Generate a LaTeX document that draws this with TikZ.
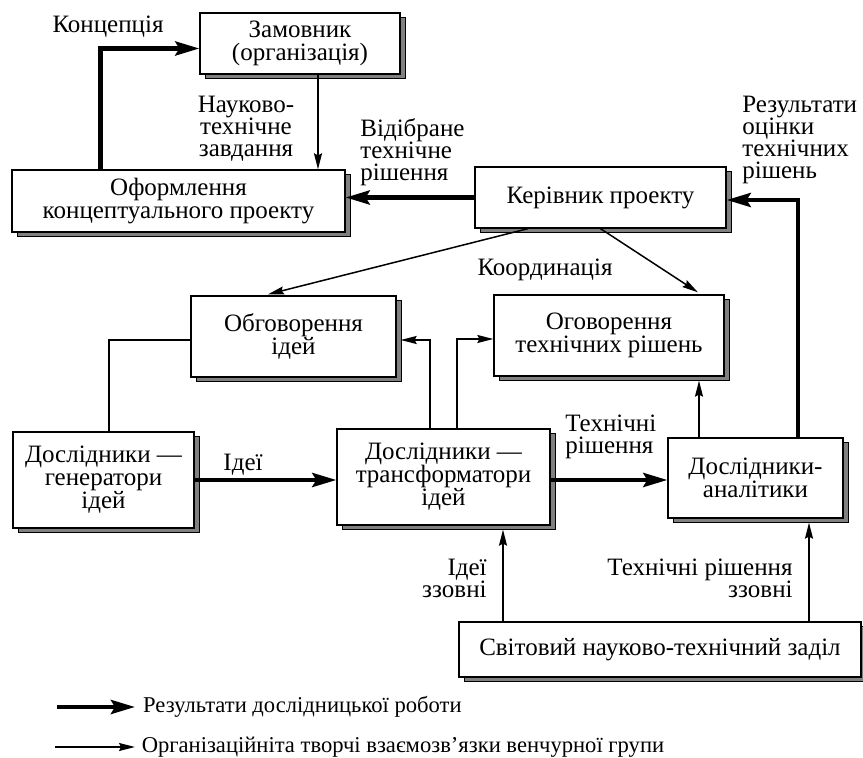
\documentclass[tikz,border=0pt]{standalone}
\usepackage{fontspec}
\setmainfont{Liberation Serif}
\usetikzlibrary{arrows.meta,shadows,positioning}
\tikzset{x=0.5pt, y=-0.5pt, % one unit is one pixel of the sketch
        box/.style={ % Sets the properties for each block
            draw, fill=white, line width=0.65pt,
            align=center, inner sep=0pt,
            font=\fontsize{12.5}{11.5}\selectfont,
            copy shadow={shadow xshift=2.5pt, shadow yshift=-2.5pt,
                fill=black!50, draw=black, line width=0.5pt}},
        lbl/.style={ % Text beside the connectors
            inner sep=0pt,
            font=\fontsize{12.5}{11}\selectfont},
        res/.style={ % Results of the research work (bold)
            draw, line width=2.2pt,
            -{Stealth[length=12pt,width=7pt,inset=2pt]}},
        org/.style={ % Organisational links (thin)
            draw, line width=0.75pt,
            -{Stealth[length=8pt,width=4pt,inset=1pt]}},
        link/.style={draw, line width=0.75pt}
        }

\begin{document}
\begin{tikzpicture}
    \useasboundingbox (0,0) rectangle (863,758);

    \node[box, minimum width=100pt, minimum height=30.5pt] (zam) at (300,43.5) {Замовник\\(організація)};
    \node[box, minimum width=166.5pt, minimum height=31pt] (ofo) at (178.5,201) {Оформлення\\концептуального проекту};
    \node[box, minimum width=125.5pt, minimum height=30.5pt] (ker) at (600.5,197.5) {Керівник проекту};
    \node[box, minimum width=102.5pt, minimum height=40.5pt] (obg) at (293.5,336.5) {Обговорення\\ідей};
    \node[box, minimum width=115pt, minimum height=40.5pt] (ogo) at (609,335.5) {Оговорення\\технічних рішень};
    \node[box, minimum width=90.5pt, minimum height=48pt] (gen) at (103.5,480) {Дослідники —\\генератори\\ідей};
    \node[box, minimum width=106.5pt, minimum height=48pt] (tra) at (443.5,477) {Дослідники —\\трансформатори\\ідей};
    \node[box, minimum width=87.5pt, minimum height=40pt] (ana) at (755.5,478) {Дослідники-\\аналітики};
    \node[box, minimum width=201pt, minimum height=27.5pt] (svi) at (660,649.5) {Світовий науково-технічний заділ};

    % bold connectors
    \draw[res] ([xshift=-39pt]ofo.north) |- ([yshift=-2.5pt]zam.west);
    \draw[res] (ker.west) -- (ker.west -| ofo.east);
    \draw[res] ([xshift=21.25pt]ana.north) |- ([yshift=-1.25pt]ker.east);
    \draw[res] (gen.east) -- (gen.east -| tra.west);
    \draw[res] ([yshift=-1.5pt]tra.east) -- ([yshift=-1.5pt]tra.east -| ana.west);

    % thin connectors
    \draw[org] ([xshift=9pt]zam.south) coordinate (z1) -- (z1 |- ofo.north);
    \draw[org] ([xshift=-36.25pt]ker.south) -- ([xshift=-12.75pt,yshift=0.5pt]obg.north);
    \draw[org] (ker.south) -- ([xshift=44.5pt,yshift=1pt]ogo.north);
    \draw[link] ([xshift=2.75pt]gen.north) |- ([yshift=-1.75pt]obg.west);
    \draw[org] ([xshift=-6.75pt]tra.north) |- ([xshift=2pt,yshift=-1.75pt]obg.east);
    \draw[org] ([xshift=6.75pt]tra.north) |- ([yshift=-1.75pt]ogo.west);
    \draw[org] ([xshift=-28.25pt]ana.north) coordinate (a1) -- ([yshift=-2pt]a1 |- ogo.south);
    \draw[org] ([xshift=-78.5pt]svi.north) coordinate (s1) -- ([yshift=-2pt]s1 |- tra.south);
    \draw[org] ([xshift=74.5pt]svi.north) coordinate (s2) -- ([yshift=-2pt]s2 |- ana.south);

    % labels
    \node[lbl] (lconc) at (108,27) {Концепція};
    \node[lbl, align=center] (lzav) at (246,129) {Науково-\\технічне\\завдання};
    \node[lbl, align=left, anchor=west] (lvid) at (360,152) {Відібране\\технічне\\рішення};
    \node[lbl, align=left, anchor=west] (locin) at (742,140) {Результати\\оцінки\\технічних\\рішень};
    \node[lbl] (lkoord) at (545,270) {Координація};
    \node[lbl, align=left, anchor=west] (ltech) at (565,437) {Технічні\\рішення};
    \node[lbl] (lidei) at (243,465) {Ідеї};
    \node[lbl, align=right, anchor=east] (lzzi) at (487,578) {Ідеї\\ззовні};
    \node[lbl, align=right, anchor=east] (lzzt) at (793,578) {Технічні рішення\\ззовні};

    % legend
    \coordinate (k1) at (57,707);
    \coordinate (k2) at (55,747);
    \draw[res] (k1) -- ++(78,0) node[right=3pt, inner sep=0pt, font=\fontsize{11.3}{11}\selectfont] (kres) {Результати дослідницької роботи};
    \draw[org] (k2) -- ++(80,0) node[right=3pt, inner sep=0pt, font=\fontsize{11.3}{11}\selectfont] (korg) {Організаційніта творчі взаємозв’язки венчурної групи};
\end{tikzpicture}
\end{document}
